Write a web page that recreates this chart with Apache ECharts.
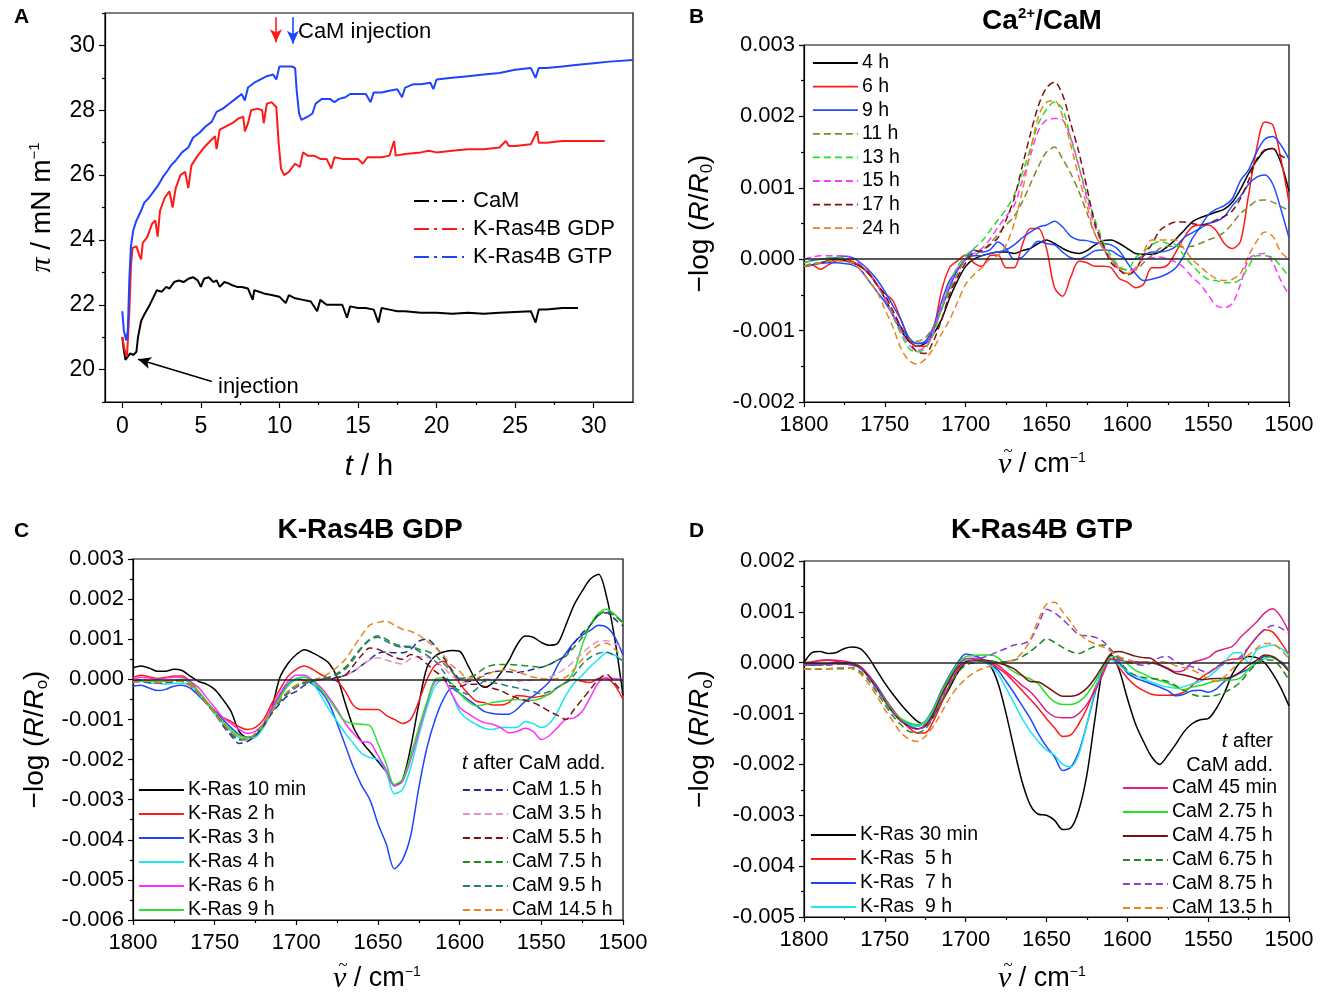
<!DOCTYPE html>
<html>
<head>
<meta charset="utf-8">
<title>CaM / K-Ras4B surface pressure and IRRA spectra</title>
<script src="https://cdn.jsdelivr.net/npm/echarts@6/dist/echarts.min.js"></script>
<style>
  html, body { margin: 0; padding: 0; background: #fff; }
  #wrap { position: relative; width: 1323px; height: 997px; }
  .panel { position: absolute; }
</style>
</head>
<body>
<div id="wrap">
  <div id="pA" class="panel" style="left:0;top:0;width:661px;height:498px"></div>
  <div id="pB" class="panel" style="left:661px;top:0;width:662px;height:498px"></div>
  <div id="pC" class="panel" style="left:0;top:498px;width:661px;height:499px"></div>
  <div id="pD" class="panel" style="left:661px;top:498px;width:662px;height:499px"></div>
</div>
<script>
const FONT = "'Liberation Sans', Arial, sans-serif";
const SERIF = "'Liberation Serif', 'DejaVu Serif', serif";

// ---------------- Panel A: surface pressure (mN/m) vs time (h) ----------------
const camTrace = [
  [0, 21.0], [0.1, 20.6], [0.2, 20.3], [0.35, 20.4], [0.5, 20.5], [0.7, 20.45], [0.9, 20.55],
  [1.0, 21.0], [1.2, 21.5], [1.4, 21.7], [1.7, 21.95], [2.0, 22.25], [2.2, 22.45], [2.5, 22.4],
  [2.8, 22.55], [3.0, 22.5], [3.3, 22.7], [3.6, 22.75], [3.9, 22.7], [4.2, 22.8], [4.5, 22.85],
  [4.8, 22.75], [5.0, 22.55], [5.2, 22.8], [5.5, 22.85], [5.8, 22.7], [6.0, 22.75], [6.2, 22.55],
  [6.5, 22.7], [6.8, 22.65], [7.0, 22.6], [7.3, 22.55], [7.6, 22.55], [8.0, 22.5], [8.3, 22.15],
  [8.4, 22.45], [8.7, 22.4], [9.0, 22.35], [9.5, 22.3], [10.0, 22.25], [10.4, 22.05], [10.6, 22.3],
  [11.0, 22.2], [11.5, 22.15], [12.0, 22.1], [12.4, 21.8], [12.6, 22.15], [13.0, 22.0], [13.5, 22.0],
  [14.0, 22.0], [14.3, 21.6], [14.5, 21.95], [15.0, 21.9], [15.5, 21.9], [16.0, 21.85], [16.3, 21.45],
  [16.5, 21.9], [17.0, 21.85], [17.5, 21.8], [18.0, 21.8], [19.0, 21.75], [20.0, 21.75], [21.0, 21.72],
  [22.0, 21.75], [23.0, 21.72], [24.0, 21.75], [25.0, 21.78], [26.0, 21.8], [26.3, 21.45], [26.5, 21.85],
  [27.0, 21.85], [28.0, 21.9], [29.0, 21.9]
];
const gdpTrace = [
  [0, 21.0], [0.15, 20.6], [0.3, 20.4], [0.45, 21.8], [0.55, 23.2], [0.65, 23.75], [0.9, 23.8],
  [1.1, 23.5], [1.2, 23.4], [1.3, 23.9], [1.6, 24.1], [1.9, 24.5], [2.1, 24.6], [2.25, 24.1],
  [2.4, 24.9], [2.7, 25.3], [3.0, 25.5], [3.2, 25.0], [3.4, 25.6], [3.7, 26.0], [4.0, 26.1],
  [4.2, 25.6], [4.4, 26.3], [4.8, 26.6], [5.2, 26.85], [5.6, 27.05], [5.9, 27.2], [6.0, 26.8],
  [6.2, 27.4], [6.6, 27.5], [7.0, 27.6], [7.4, 27.75], [7.7, 27.8], [7.8, 27.35], [8.0, 27.6],
  [8.2, 28.0], [8.6, 28.05], [8.9, 28.0], [9.0, 27.6], [9.2, 28.2], [9.5, 28.25], [9.8, 28.1],
  [9.95, 27.0], [10.1, 26.2], [10.3, 26.0], [10.6, 26.1], [11.0, 26.35], [11.3, 26.25], [11.5, 26.7],
  [11.8, 26.6], [12.2, 26.6], [12.6, 26.5], [13.0, 26.5], [13.3, 26.2], [13.5, 26.55], [14.0, 26.5],
  [14.5, 26.5], [15.0, 26.5], [15.3, 26.35], [15.6, 26.55], [16.0, 26.55], [16.5, 26.55], [17.0, 26.6],
  [17.3, 27.05], [17.4, 26.6], [18.0, 26.65], [19.0, 26.7], [19.5, 26.75], [20.0, 26.7], [21.0, 26.75],
  [22.0, 26.8], [23.0, 26.8], [24.0, 26.85], [24.4, 27.05], [24.6, 26.9], [25.0, 26.9], [26.0, 26.95],
  [26.4, 27.35], [26.5, 27.0], [27.0, 27.0], [28.0, 27.05], [29.0, 27.05], [30.0, 27.05], [30.7, 27.05]
];
const gtpTrace = [
  [0, 21.8], [0.1, 21.2], [0.25, 20.9], [0.35, 21.2], [0.45, 22.8], [0.55, 23.8], [0.7, 24.3],
  [0.9, 24.6], [1.2, 24.9], [1.4, 25.15], [1.7, 25.3], [2.0, 25.5], [2.3, 25.7], [2.6, 25.95],
  [2.9, 26.15], [3.1, 26.3], [3.4, 26.45], [3.8, 26.7], [4.2, 26.85], [4.5, 27.15], [4.9, 27.3],
  [5.3, 27.5], [5.7, 27.65], [6.0, 27.95], [6.4, 28.05], [6.8, 28.2], [7.2, 28.35], [7.6, 28.5],
  [7.8, 28.3], [8.0, 28.7], [8.4, 28.85], [8.8, 28.95], [9.2, 29.05], [9.6, 29.1], [9.8, 28.95],
  [10.0, 29.35], [10.4, 29.35], [10.8, 29.35], [11.0, 29.3], [11.1, 28.6], [11.25, 27.9], [11.4, 27.7],
  [11.8, 27.8], [12.1, 27.9], [12.3, 28.2], [12.7, 28.35], [13.2, 28.35], [13.5, 28.25], [13.8, 28.35],
  [14.2, 28.4], [14.5, 28.5], [15.0, 28.5], [15.5, 28.5], [15.8, 28.25], [16.0, 28.55], [16.5, 28.55],
  [17.0, 28.6], [17.5, 28.65], [17.8, 28.4], [18.0, 28.7], [18.5, 28.8], [19.0, 28.8], [19.6, 28.85],
  [19.8, 28.65], [20.0, 28.95], [21.0, 29.0], [22.0, 29.05], [23.0, 29.1], [24.0, 29.15], [25.0, 29.25],
  [26.0, 29.3], [26.3, 29.0], [26.5, 29.3], [27.0, 29.3], [28.0, 29.35], [29.0, 29.4], [30.0, 29.45],
  [31.0, 29.5], [32.5, 29.55]
];
const timeTicks = [0, 5, 10, 15, 20, 25, 30];
const timeMinorTicks = [2.5, 7.5, 12.5, 17.5, 22.5, 27.5];
const piTicks = [20, 22, 24, 26, 28, 30];
const piMinorTicks = [19, 21, 23, 25, 27, 29, 31];
// injection arrows: [t, pi] start -> end
const injArrowRed = [[9.78, 30.87], [9.78, 30.1]];
const injArrowBlue = [[10.86, 30.87], [10.86, 30.05]];
const injArrowCam = [[5.7, 19.63], [1.0, 20.32]];

// ---------------- wavenumber grid (cm-1) for panels B-D ----------------
const wn = [
  1800, 1795, 1790, 1785, 1780, 1775, 1770, 1765, 1760, 1755,
  1750, 1745, 1740, 1735, 1730, 1725, 1720, 1715, 1710, 1705,
  1700, 1695, 1690, 1685, 1680, 1675, 1670, 1665, 1660, 1655,
  1650, 1645, 1640, 1635, 1630, 1625, 1620, 1615, 1610, 1605,
  1600, 1595, 1590, 1585, 1580, 1575, 1570, 1565, 1560, 1555,
  1550, 1545, 1540, 1535, 1530, 1525, 1520, 1515, 1510, 1505,
  1500
];

// ---------------- Panel B: Ca2+/CaM (values in units of 1e-3) ----------------
const b4h = [
  -0.1, -0.08, -0.05, -0.03, 0, -0.02, -0.05, -0.1, -0.2, -0.35,
  -0.55, -0.78, -1.0, -1.15, -1.22, -1.18, -1.05, -0.85, -0.55, -0.3,
  -0.1, 0, 0.05, 0.08, 0.1, 0.1, 0.08, 0.12, 0.15, 0.22,
  0.27, 0.22, 0.15, 0.1, 0.08, 0.12, 0.2, 0.26, 0.27, 0.22,
  0.15, 0.08, 0.07, 0.07, 0.1, 0.18, 0.28, 0.4, 0.52, 0.58,
  0.62, 0.66, 0.7, 0.8, 0.98, 1.2, 1.38, 1.52, 1.55, 1.35,
  0.95
];
const b6h = [
  -0.1, -0.08, -0.14, -0.08, -0.02, 0, -0.03, -0.1, -0.18, -0.35,
  -0.48, -0.58, -0.85, -1.12, -1.22, -1.22, -1.0, -0.45, -0.12, -0.02,
  0.06, -0.05, -0.1, 0.05, 0.06, -0.12, -0.12, 0.2, 0.43, 0.43,
  0.15, -0.4, -0.52, -0.25, -0.03, -0.05, -0.1, -0.1, -0.12, -0.27,
  -0.32, -0.4, -0.35, -0.12, -0.12, -0.08, 0.1, 0.3, 0.45, 0.48,
  0.48, 0.4, 0.22, 0.15, 0.25, 0.9, 1.55, 1.92, 1.88, 1.4,
  0.8
];
const b9h = [
  -0.05, -0.02, 0, 0.01, 0.02, 0.04, 0.02, -0.05, -0.15, -0.28,
  -0.45, -0.65, -0.85, -1.1, -1.18, -1.15, -0.95, -0.6, -0.3, -0.15,
  0, 0.05, 0.05, 0.08, 0.1, 0.13, 0.2, 0.3, 0.38, 0.45,
  0.48, 0.53, 0.45, 0.32, 0.27, 0.26, 0.23, 0.22, 0.2, 0.12,
  -0.05, -0.2, -0.3, -0.28, -0.25, -0.2, -0.12, 0.05, 0.28, 0.45,
  0.62, 0.7, 0.75, 0.85, 1.1, 1.25, 1.5, 1.68, 1.72, 1.6,
  1.4
];
const b9hRepeat = [
  -0.1, -0.08, -0.06, -0.05, -0.05, -0.06, -0.08, -0.15, -0.3, -0.45,
  -0.6, -0.78, -0.95, -1.12, -1.18, -1.17, -1.0, -0.7, -0.4, -0.15,
  0, 0.13, 0.1, 0.13, 0.24, 0.15, 0, 0.03, 0.15, 0.25,
  0.22, 0.2, 0.1, 0.02, 0, 0.05, 0.12, 0.13, 0.12, 0.05,
  0, 0, 0.05, 0.1, 0.1, 0.12, 0.18, 0.3, 0.37, 0.43,
  0.5, 0.53, 0.6, 0.75, 0.88, 1.05, 1.15, 1.18, 1.05, 0.7,
  0.3
];
const b11h = [
  -0.1, -0.06, -0.05, -0.02, 0, -0.02, -0.05, -0.1, -0.2, -0.35,
  -0.55, -0.78, -1.0, -1.12, -1.15, -1.1, -0.95, -0.7, -0.45, -0.2,
  0, 0.05, 0.12, 0.22, 0.35, 0.48, 0.6, 0.8, 1.05, 1.3,
  1.5, 1.57, 1.4, 1.2, 0.95, 0.65, 0.35, 0.15, 0, -0.12,
  -0.15, -0.15, -0.05, 0.05, 0.15, 0.18, 0.18, 0.17, 0.18, 0.22,
  0.27, 0.31, 0.38, 0.5, 0.64, 0.73, 0.82, 0.83, 0.8, 0.74,
  0.68
];
const b13h = [
  -0.05, -0.02, 0, 0.02, 0.03, 0.02, 0, -0.08, -0.2, -0.35,
  -0.55, -0.8, -1.05, -1.25, -1.3, -1.25, -1.05, -0.7, -0.35, -0.1,
  0.05, 0.15, 0.25, 0.4, 0.55, 0.7, 0.9, 1.2, 1.55, 1.9,
  2.1, 2.2, 2.1, 1.7, 1.3, 0.9, 0.55, 0.25, 0.05, -0.1,
  -0.15, 0.02, 0.1, 0.2, 0.25, 0.22, 0.2, 0.05, -0.08, -0.2,
  -0.28, -0.3, -0.33, -0.33, -0.28, -0.1, 0.05, 0.05, 0.02, -0.1,
  -0.25
];
const b15h = [
  0, 0.03, 0.05, 0.05, 0.05, 0.05, 0, -0.08, -0.2, -0.35,
  -0.55, -0.78, -1.0, -1.2, -1.28, -1.22, -1.0, -0.65, -0.35, -0.12,
  0, 0.08, 0.15, 0.28, 0.45, 0.6, 0.75, 1.1, 1.45, 1.8,
  1.95, 1.97, 1.95, 1.7, 1.3, 0.85, 0.45, 0.2, 0, -0.15,
  -0.2, -0.12, 0, 0.02, 0.03, 0, -0.04, -0.12, -0.25, -0.35,
  -0.5, -0.65, -0.68, -0.62, -0.35, 0, 0.07, 0.08, -0.05, -0.3,
  -0.5
];
const b17h = [
  -0.1, -0.08, -0.05, -0.02, 0, -0.02, -0.05, -0.1, -0.2, -0.35,
  -0.5, -0.72, -0.95, -1.15, -1.3, -1.32, -1.15, -0.85, -0.5, -0.25,
  -0.05, 0.1, 0.12, 0.2, 0.3, 0.55, 0.85, 1.3, 1.75, 2.15,
  2.4, 2.48, 2.3, 1.9, 1.5, 1.0, 0.5, 0.2, -0.05, -0.15,
  -0.22, -0.15, 0.05, 0.2, 0.4, 0.48, 0.52, 0.52, 0.5, 0.48,
  0.5, 0.55, 0.6, 0.68, 0.85, 1.1, 1.4, 1.53, 1.55, 1.45,
  1.4
];
const b24h = [
  -0.1, -0.08, -0.05, -0.03, -0.02, -0.03, -0.05, -0.15, -0.3, -0.45,
  -0.7, -0.95, -1.25, -1.42, -1.47, -1.4, -1.25, -1.05, -0.85, -0.6,
  -0.35, -0.22, -0.12, 0, 0.05, 0.2, 0.5, 0.95, 1.5, 2.0,
  2.2, 2.22, 2.0, 1.6, 1.15, 0.75, 0.35, 0.15, 0, -0.12,
  -0.2, -0.15, 0.1, 0.27, 0.27, 0.27, 0.27, 0.15, 0, -0.1,
  -0.2, -0.27, -0.3, -0.28, -0.2, 0.05, 0.25, 0.38, 0.32, 0.1,
  0
];

// ---------------- Panel C: K-Ras4B GDP (1e-3) ----------------
const cRas10min = [
  0.29, 0.33, 0.28, 0.2, 0.2, 0.25, 0.22, 0.08, -0.05, -0.12,
  -0.25, -0.5, -0.8, -1.3, -1.45, -1.4, -1.15, -0.7, 0.05, 0.4,
  0.62, 0.74, 0.66, 0.55, 0.4, 0.05, -0.6, -1.2, -1.55, -1.8,
  -2.05, -2.3, -2.65, -2.5, -1.7, -0.62, 0.3, 0.58, 0.68, 0.72,
  0.7, 0.35, -0.02, -0.2, -0.1, 0.15, 0.46, 0.85, 1.08, 1.05,
  0.92, 0.85, 0.9, 1.35, 1.85, 2.2, 2.5, 2.62, 2.05, 1.0,
  -0.4
];
const cRas2h = [
  0.04, 0.1, 0.06, 0.02, 0.05, 0.08, 0.08, -0.05, -0.3, -0.55,
  -0.78, -0.95, -1.05, -1.18, -1.25, -1.2, -1.0, -0.6, -0.25, 0.08,
  0.25, 0.33, 0.25, 0.12, 0.02, -0.05, -0.3, -0.65, -0.75, -0.75,
  -0.75, -0.9, -1.0, -1.1, -1.0, -0.55, 0, 0.35, 0.45, 0.22,
  -0.1, -0.35, -0.54, -0.58, -0.64, -0.64, -0.58, -0.4, -0.42, -0.45,
  -0.42, -0.37, -0.2, -0.08, 0, -0.05, -0.08, 0.02, 0.02, -0.15,
  -0.5
];
const cRas3h = [
  -0.17, -0.15, -0.22, -0.28, -0.25, -0.17, -0.15, -0.22, -0.4, -0.6,
  -0.8, -1.0, -1.2, -1.38, -1.45, -1.4, -1.15, -0.75, -0.4, -0.12,
  0, -0.02, -0.12, -0.3, -0.6, -1.1, -1.65, -2.2, -2.65, -3.0,
  -3.6, -4.1, -4.72, -4.5, -3.9, -2.7, -1.7, -1.0, -0.5, -0.22,
  -0.35, -0.5, -0.65, -0.8, -0.85, -0.87, -0.87, -0.75, -0.55, -0.42,
  -0.25, -0.05, 0.35, 0.65, 0.92, 1.1, 1.22, 1.35, 1.3, 1.05,
  0.6
];
const cRas4h = [
  -0.08, -0.05, -0.1, -0.1, -0.12, -0.1, -0.1, -0.15, -0.35, -0.6,
  -0.85, -1.1, -1.3, -1.45, -1.5, -1.45, -1.2, -0.8, -0.45, -0.15,
  0, 0.05, -0.1, -0.4, -0.75, -1.05, -1.35, -1.6, -1.85, -1.95,
  -2.0, -2.3, -2.85, -2.75, -2.2, -1.4, -0.7, -0.15, 0, -0.35,
  -0.8, -1.0, -1.12, -1.22, -1.25, -1.2, -1.2, -1.2, -1.05, -1.1,
  -1.2, -1.1, -0.8, -0.4, -0.1, 0.1, 0.32, 0.5, 0.66, 0.6,
  0.46
];
const cRas6h = [
  0, 0.05, 0.03, 0, 0.03, 0.05, 0.05, -0.05, -0.2, -0.45,
  -0.7, -0.95, -1.1, -1.25, -1.35, -1.3, -1.1, -0.7, -0.35, -0.05,
  0.1, 0.1, -0.02, -0.2, -0.45, -0.75, -1.1, -1.35, -1.55, -1.58,
  -1.9, -2.25, -2.66, -2.55, -2.0, -1.3, -0.6, -0.05, -0.02, -0.35,
  -0.7, -0.85, -0.98, -1.08, -1.12, -1.2, -1.33, -1.3, -1.22, -1.3,
  -1.5, -1.4, -1.2, -1.0, -0.96, -0.8, -0.45, -0.08, 0.04, 0.02,
  0
];
const cRas9h = [
  -0.05, -0.02, -0.05, -0.05, -0.05, -0.02, 0, -0.1, -0.3, -0.55,
  -0.8, -1.05, -1.25, -1.4, -1.45, -1.38, -1.15, -0.8, -0.45, -0.15,
  0.02, 0.05, -0.05, -0.25, -0.5, -0.8, -1.05, -1.1, -1.12, -1.15,
  -1.6, -2.1, -2.62, -2.5, -1.9, -1.2, -0.55, 0, 0.04, -0.1,
  -0.35, -0.55, -0.66, -0.63, -0.58, -0.55, -0.52, -0.5, -0.52, -0.52,
  -0.47, -0.35, -0.2, -0.08, 0.2, 0.85, 1.35, 1.65, 1.75, 1.62,
  1.4
];
const cCam15h = [
  -0.05, 0, -0.05, -0.08, -0.05, -0.02, -0.05, -0.15, -0.35, -0.6,
  -0.85, -1.15, -1.4, -1.6, -1.55, -1.4, -1.15, -0.85, -0.6, -0.4,
  -0.3, -0.15, -0.05, 0, 0, 0.05, 0.1, 0.2, 0.35, 0.5,
  0.65, 0.68, 0.66, 0.66, 0.75, 0.95, 1.0, 0.83, 0.55, 0.25,
  0, -0.05, -0.02, 0.12, 0.18, 0.21, 0.19, 0.17, 0.2, 0.25,
  0.3, 0.37, 0.48, 0.6, 0.9, 1.15, 1.35, 1.6, 1.66, 1.5,
  1.33
];
const cCam35h = [
  -0.05, -0.02, -0.05, -0.08, -0.05, -0.03, -0.05, -0.15, -0.35, -0.6,
  -0.85, -1.1, -1.35, -1.5, -1.5, -1.35, -1.1, -0.8, -0.55, -0.35,
  -0.2, -0.1, -0.05, 0, 0.02, 0.05, 0.1, 0.2, 0.35, 0.48,
  0.54, 0.48, 0.42, 0.38, 0.52, 0.56, 0.55, 0.45, 0.3, 0.1,
  -0.05, -0.08, -0.02, 0, 0, 0, -0.02, -0.04, -0.03, -0.02,
  0, 0.05, 0.15, 0.28, 0.45, 0.65, 0.82, 0.95, 0.96, 0.88,
  0.79
];
const cCam55h = [
  -0.05, -0.05, -0.08, -0.1, -0.08, -0.05, -0.05, -0.15, -0.35, -0.6,
  -0.85, -1.1, -1.35, -1.5, -1.5, -1.35, -1.1, -0.8, -0.55, -0.3,
  -0.15, -0.08, -0.02, 0.02, 0.03, 0.05, 0.1, 0.35, 0.6, 0.78,
  0.75, 0.65, 0.55, 0.5, 0.62, 0.55, 0.38, 0.2, 0.05, -0.18,
  -0.18, -0.12, -0.12, -0.18, -0.22, -0.28, -0.38, -0.46, -0.52, -0.58,
  -0.68, -0.8, -0.9, -1.0, -0.75, -0.5, -0.25, 0, 0.12, -0.1,
  -0.35
];
const cCam75h = [
  -0.05, -0.05, -0.08, -0.1, -0.08, -0.05, -0.05, -0.15, -0.35, -0.6,
  -0.85, -1.1, -1.35, -1.5, -1.5, -1.35, -1.1, -0.8, -0.55, -0.3,
  -0.15, -0.1, -0.05, 0, 0.05, 0.15, 0.3, 0.55, 0.8, 1.0,
  1.08, 1.0, 0.88, 0.83, 0.82, 0.75, 0.7, 0.6, 0.4, 0.2,
  0.02, 0.05, 0.12, 0.28, 0.35, 0.37, 0.37, 0.36, 0.34, 0.32,
  0.3, 0.38, 0.48, 0.58, 0.8, 1.04, 1.35, 1.6, 1.7, 1.58,
  1.42
];
const cCam95h = [
  -0.08, -0.05, -0.08, -0.1, -0.08, -0.05, -0.05, -0.15, -0.35, -0.6,
  -0.85, -1.1, -1.35, -1.5, -1.5, -1.35, -1.1, -0.8, -0.55, -0.35,
  -0.2, -0.1, -0.05, 0, 0.05, 0.12, 0.25, 0.5, 0.78, 0.98,
  1.05, 0.95, 0.85, 0.8, 0.8, 0.7, 0.6, 0.45, 0.2, -0.15,
  -0.28, -0.37, -0.25, -0.05, -0.08, -0.12, -0.17, -0.21, -0.26, -0.3,
  -0.36, -0.3, -0.2, -0.08, 0.1, 0.37, 0.55, 0.65, 0.68, 0.58,
  0.46
];
const cCam145h = [
  -0.08, -0.05, -0.05, -0.08, -0.05, -0.05, -0.05, -0.15, -0.35, -0.6,
  -0.85, -1.1, -1.3, -1.45, -1.5, -1.35, -1.1, -0.8, -0.5, -0.3,
  -0.15, -0.05, -0.02, 0.05, 0.15, 0.3, 0.5, 0.8, 1.1, 1.35,
  1.42, 1.45, 1.35, 1.25, 1.2, 1.1, 0.95, 0.8, 0.6, 0.35,
  0.2, 0.02, 0.05, 0.08, 0.18, 0.22, 0.25, 0.2, 0.12, 0.06,
  0.02, 0, 0.02, 0.05, 0.25, 0.5, 0.7, 0.85, 0.9, 0.75,
  0.55
];

// ---------------- Panel D: K-Ras4B GTP (1e-3) ----------------
const dRas30min = [
  0, 0.2, 0.22, 0.18, 0.2, 0.28, 0.31, 0.27, 0.1, -0.15,
  -0.4, -0.62, -0.82, -1.0, -1.15, -1.22, -1.05, -0.78, -0.5, -0.2,
  0, 0.05, 0.03, -0.05, -0.4, -1.0, -1.7, -2.35, -2.8, -2.98,
  -3.0, -3.1, -3.28, -3.25, -2.9, -2.2, -1.1, -0.1, 0.15, -0.15,
  -0.7, -1.2, -1.55, -1.85, -2.0, -1.82, -1.6, -1.36, -1.2, -1.12,
  -1.1, -0.9, -0.6, -0.22, 0.02, 0.12, 0.1, 0, -0.22, -0.5,
  -0.85
];
const dRas5h = [
  0, 0.02, 0.04, 0.05, 0.03, 0, -0.02, -0.08, -0.25, -0.48,
  -0.7, -0.92, -1.12, -1.28, -1.38, -1.38, -1.15, -0.8, -0.45, -0.15,
  0, 0.05, 0.04, 0, -0.1, -0.22, -0.38, -0.55, -0.72, -0.9,
  -1.1, -1.28, -1.45, -1.42, -1.2, -0.9, -0.5, -0.15, 0.08, -0.1,
  -0.3, -0.45, -0.55, -0.62, -0.64, -0.64, -0.63, -0.58, -0.45, -0.31,
  -0.2, -0.1, 0.03, 0.07, 0.08, 0.3, 0.5, 0.65, 0.6, 0.4,
  0.15
];
const dRas7h = [
  -0.05, -0.05, -0.05, -0.02, 0, -0.02, -0.05, -0.1, -0.25, -0.45,
  -0.7, -0.95, -1.12, -1.2, -1.25, -1.15, -0.9, -0.55, -0.25, 0,
  0.17, 0.14, 0.08, -0.02, -0.15, -0.37, -0.6, -0.85, -1.1, -1.4,
  -1.65, -1.85, -2.12, -2.05, -1.75, -1.2, -0.6, -0.1, 0.08, 0,
  -0.2, -0.3, -0.36, -0.42, -0.48, -0.55, -0.65, -0.62, -0.55, -0.54,
  -0.58, -0.52, -0.37, -0.28, -0.2, -0.12, 0, 0.12, 0.1, 0.02,
  -0.14
];
const dRas9h = [
  -0.02, -0.02, -0.03, -0.02, 0, -0.02, -0.03, -0.1, -0.28, -0.5,
  -0.75, -0.98, -1.12, -1.22, -1.25, -1.18, -0.95, -0.6, -0.3, -0.05,
  0.05, 0.06, 0.04, -0.05, -0.22, -0.5, -0.8, -1.1, -1.35, -1.55,
  -1.72, -1.82, -2.0, -2.05, -1.8, -1.2, -0.55, -0.1, 0.06, -0.05,
  -0.17, -0.25, -0.32, -0.38, -0.44, -0.48, -0.5, -0.47, -0.42, -0.37,
  -0.28, -0.15, 0, 0.18, 0.2, 0, 0.25, 0.32, 0.35, 0.28,
  0.15
];
const dCam45min = [
  -0.02, 0, 0.05, 0.06, 0.05, 0.03, 0, -0.08, -0.25, -0.48,
  -0.72, -0.95, -1.12, -1.25, -1.3, -1.22, -1.0, -0.65, -0.32, -0.05,
  0.08, 0.09, 0.06, 0.02, -0.05, -0.18, -0.31, -0.45, -0.57, -0.75,
  -0.95, -1.06, -1.08, -1.08, -1.0, -0.82, -0.55, -0.22, 0.08, 0.05,
  0.02, 0.02, 0.02, 0, -0.05, -0.11, -0.18, -0.15, 0, 0.05,
  0.1, 0.22, 0.27, 0.32, 0.5, 0.65, 0.8, 0.98, 1.06, 0.9,
  0.6
];
const dCam275h = [
  -0.05, -0.03, -0.03, -0.02, 0, -0.02, -0.04, -0.1, -0.28, -0.5,
  -0.72, -0.95, -1.1, -1.18, -1.22, -1.15, -0.92, -0.58, -0.28, -0.02,
  0.12, 0.14, 0.15, 0.15, 0.1, -0.06, -0.18, -0.26, -0.32, -0.42,
  -0.62, -0.77, -0.82, -0.82, -0.77, -0.62, -0.38, -0.1, 0.12, 0.1,
  -0.02, -0.15, -0.22, -0.3, -0.35, -0.4, -0.48, -0.53, -0.48, -0.45,
  -0.4, -0.36, -0.34, -0.34, -0.3, -0.13, 0, 0.08, 0.12, 0,
  -0.14
];
const dCam475h = [
  -0.02, -0.02, -0.02, -0.02, -0.02, -0.02, -0.03, -0.1, -0.28, -0.5,
  -0.75, -0.98, -1.15, -1.25, -1.3, -1.25, -1.0, -0.65, -0.35, -0.1,
  0.02, 0.04, 0.05, 0.04, 0, -0.05, -0.12, -0.25, -0.37, -0.38,
  -0.47, -0.58, -0.66, -0.66, -0.62, -0.5, -0.3, -0.05, 0.18, 0.22,
  0.18, 0.13, 0.1, 0.08, -0.04, -0.12, -0.21, -0.24, -0.28, -0.33,
  -0.32, -0.31, -0.31, -0.27, -0.18, -0.05, 0.05, 0.15, 0.12, 0,
  -0.17
];
const dCam675h = [
  -0.12, -0.13, -0.13, -0.12, -0.12, -0.12, -0.1, -0.18, -0.35, -0.58,
  -0.82, -1.05, -1.22, -1.35, -1.38, -1.3, -1.08, -0.75, -0.45, -0.2,
  -0.05, 0, 0.03, 0.03, 0.02, 0.02, 0.05, 0.12, 0.22, 0.35,
  0.47, 0.4, 0.3, 0.22, 0.18, 0.25, 0.32, 0.35, 0.25, 0.05,
  -0.15, -0.25, -0.29, -0.31, -0.33, -0.37, -0.45, -0.55, -0.62, -0.66,
  -0.66, -0.64, -0.58, -0.5, -0.38, -0.18, -0.03, 0.06, 0.05, -0.1,
  -0.34
];
const dCam875h = [
  -0.05, -0.05, -0.05, -0.05, -0.03, -0.03, -0.05, -0.12, -0.3, -0.52,
  -0.75, -0.98, -1.15, -1.25, -1.3, -1.25, -1.05, -0.7, -0.4, -0.12,
  0.02, 0.06, 0.1, 0.15, 0.22, 0.28, 0.35, 0.37, 0.45, 0.75,
  1.05, 0.98, 0.85, 0.7, 0.55, 0.53, 0.5, 0.42, 0.25, 0.1,
  0.02, -0.03, -0.05, 0, 0.1, 0.12, 0.02, -0.04, -0.08, -0.14,
  -0.2, -0.08, -0.03, 0, 0.12, 0.3, 0.5, 0.65, 0.73, 0.68,
  0.58
];
const dCam135h = [
  -0.12, -0.12, -0.12, -0.12, -0.1, -0.1, -0.12, -0.22, -0.42, -0.65,
  -0.92, -1.15, -1.38, -1.5, -1.55, -1.45, -1.25, -0.98, -0.7, -0.48,
  -0.32, -0.2, -0.12, -0.07, -0.03, 0.02, 0.06, 0.2, 0.45, 0.85,
  1.15, 1.19, 1.0, 0.8, 0.58, 0.45, 0.37, 0.31, 0.22, 0.12,
  0.06, 0.02, 0.01, 0, 0.02, 0, -0.06, -0.1, -0.14, -0.22,
  -0.31, -0.37, -0.28, -0.12, 0.02, 0.15, 0.28, 0.38, 0.37, 0.25,
  0.08
];

// ---------------- helpers ----------------
const fmt3 = v => (Math.round(v * 1e4) / 1e4).toFixed(3);
const blackLine = { color: '#000', width: 1.2 };

function toPoints(vals) {
  return wn.map((w, i) => [w, vals[i] / 1000]);
}

function specSeries(name, vals, color, dashed) {
  return {
    name: name,
    type: 'line',
    data: toPoints(vals),
    symbol: 'none',
    smooth: 0.3,
    lineStyle: { color: color, width: 1.5, type: dashed ? [7, 4] : 'solid' },
    itemStyle: { color: color },
    emphasis: { disabled: true }
  };
}

function zeroLine() {
  return {
    type: 'line', data: [], symbol: 'none', silent: true,
    markLine: {
      silent: true, symbol: 'none', label: { show: false },
      lineStyle: { color: '#222', width: 1.5, type: 'solid' },
      emphasis: { disabled: true },
      data: [{ yAxis: 0 }]
    }
  };
}

function wnAxis() {
  return {
    type: 'value', min: 1500, max: 1800, interval: 50, inverse: true,
    axisLine: { onZero: false, lineStyle: blackLine },
    axisTick: { length: 5, lineStyle: blackLine },
    minorTick: { show: true, splitNumber: 2, length: 3, lineStyle: blackLine },
    axisLabel: { color: '#000', fontSize: 22, fontFamily: FONT, margin: 12, formatter: v => String(v) },
    splitLine: { show: false }
  };
}

// x-axis title drawn as text so the tilde can sit over the nu
function wnTitle(x, y) {
  return [
    {
      type: 'text', x: x, y: y,
      style: {
        text: '{i|\u03bd} / cm{sup|\u22121}', fill: '#000', textVerticalAlign: 'middle',
        font: '27px ' + FONT,
        rich: {
          i: { fontSize: 30, fontFamily: SERIF, fontStyle: 'italic', fill: '#000' },
          sup: { fontSize: 14, fontFamily: FONT, fill: '#000', padding: [0, 0, 14, 0] }
        }
      }
    },
    {
      type: 'text', x: x + 10, y: y - 13,
      style: { text: '~', fill: '#000', textAlign: 'center', textVerticalAlign: 'middle', font: '17px ' + SERIF }
    }
  ];
}

function absAxis(min, max, gap, subChar) {
  return {
    type: 'value', min: min, max: max, interval: 0.001,
    name: '\u2212log ({i|R}/{i|R}{sub|' + subChar + '})',
    nameLocation: 'middle', nameGap: gap,
    nameTextStyle: {
      color: '#000', fontSize: 28, fontFamily: FONT,
      rich: {
        i: { fontSize: 28, fontFamily: FONT, fontStyle: 'italic', color: '#000' },
        sub: { fontSize: 17, fontFamily: FONT, color: '#000', padding: [14, 0, 0, 0] }
      }
    },
    axisLine: { onZero: false, lineStyle: blackLine },
    axisTick: { length: 5, lineStyle: blackLine },
    minorTick: { show: true, splitNumber: 2, length: 3, lineStyle: blackLine },
    axisLabel: { color: '#000', fontSize: 22, fontFamily: FONT, margin: 9, formatter: fmt3 },
    splitLine: { show: false }
  };
}

function specLegend(names, left, top, gap) {
  return {
    data: names, orient: 'vertical', left: left, top: top, padding: 0,
    itemWidth: 45, itemHeight: 14, itemGap: gap, selectedMode: false,
    itemStyle: { opacity: 0 },
    lineStyle: { width: 1.8 },
    textStyle: { color: '#000', fontSize: 19.5, fontFamily: FONT, padding: [0, 0, 0, -1] }
  };
}

function letter(ch, x, y) {
  return {
    type: 'text', x: x, y: y,
    style: { text: ch, font: 'bold 21px ' + FONT, fill: '#000', textVerticalAlign: 'middle' }
  };
}

function titleText(text, x, y) {
  return {
    type: 'text', x: x, y: y,
    style: {
      text: text, fill: '#000', textAlign: 'center', textVerticalAlign: 'middle',
      font: 'bold 28px ' + FONT,
      rich: {
        b: { fontSize: 28, fontWeight: 'bold', fontFamily: FONT, fill: '#000' },
        s: { fontSize: 15, fontWeight: 'bold', fontFamily: FONT, fill: '#000', padding: [0, 0, 14, 0] }
      }
    }
  };
}

// ---------------- Panel A ----------------
function arrowLine(pts, color) {
  return {
    silent: true, symbol: ['none', 'arrow'], symbolSize: [9, 13],
    label: { show: false }, emphasis: { disabled: true },
    lineStyle: { color: color, width: 1.6, type: 'solid' },
    data: [[{ coord: pts[0] }, { coord: pts[1] }]]
  };
}

function traceSeries(name, data, color, arrow) {
  return {
    name: name, type: 'line', data: data, symbol: 'none',
    lineStyle: { color: color, width: 2 }, itemStyle: { color: color },
    emphasis: { disabled: true },
    markLine: arrow ? arrowLine(arrow, color) : undefined
  };
}

const axisTextA = { color: '#000', fontSize: 23, fontFamily: FONT };

const chartA = echarts.init(document.getElementById('pA'));
chartA.setOption({
  animation: false,
  grid: { left: 105, top: 13, width: 528, height: 389, show: true, borderColor: '#000', borderWidth: 1.2 },
  xAxis: [
    {
      type: 'value', min: -1.1, max: 32.5,
      name: '{i|t} / h', nameLocation: 'middle', nameGap: 50,
      nameTextStyle: {
        color: '#000', fontSize: 29, fontFamily: FONT,
        rich: { i: { fontSize: 29, fontFamily: FONT, fontStyle: 'italic', color: '#000' } }
      },
      axisLine: { onZero: false, lineStyle: blackLine },
      axisTick: { customValues: timeTicks, length: 6, lineStyle: blackLine },
      axisLabel: Object.assign({ customValues: timeTicks, margin: 13 }, axisTextA),
      splitLine: { show: false }
    },
    {
      type: 'value', min: -1.1, max: 32.5, position: 'bottom',
      axisLine: { show: false, onZero: false }, axisLabel: { show: false }, splitLine: { show: false },
      axisTick: { customValues: timeMinorTicks, length: 3, lineStyle: blackLine }
    }
  ],
  yAxis: [
    {
      type: 'value', min: 19, max: 31,
      name: '{i|\u03c0} / mN m{sup|\u22121}', nameLocation: 'middle', nameGap: 48,
      nameTextStyle: {
        color: '#000', fontSize: 28, fontFamily: FONT,
        rich: {
          i: { fontSize: 30, fontFamily: SERIF, fontStyle: 'italic', color: '#000' },
          sup: { fontSize: 15, fontFamily: FONT, color: '#000', padding: [0, 0, 14, 0] }
        }
      },
      axisLine: { onZero: false, lineStyle: blackLine },
      axisTick: { customValues: piTicks, length: 6, lineStyle: blackLine },
      axisLabel: Object.assign({ customValues: piTicks, margin: 10 }, axisTextA),
      splitLine: { show: false }
    },
    {
      type: 'value', min: 19, max: 31, position: 'left',
      axisLine: { show: false, onZero: false }, axisLabel: { show: false }, splitLine: { show: false },
      axisTick: { customValues: piMinorTicks, length: 3, lineStyle: blackLine }
    }
  ],
  legend: {
    data: ['CaM', 'K-Ras4B GDP', 'K-Ras4B GTP'], orient: 'vertical',
    left: 413, top: 190, padding: 0, itemWidth: 50, itemHeight: 14, itemGap: 6,
    selectedMode: false, itemStyle: { opacity: 0 },
    lineStyle: { width: 2, type: [15, 5, 3, 5] },
    textStyle: { color: '#000', fontSize: 22, fontFamily: FONT, padding: [0, 0, 0, 4] }
  },
  graphic: [
    letter('A', 14, 17),
    { type: 'text', x: 298, y: 32, style: { text: 'CaM injection', font: '22px ' + FONT, fill: '#000', textVerticalAlign: 'middle' } },
    { type: 'text', x: 218, y: 387, style: { text: 'injection', font: '22px ' + FONT, fill: '#000', textVerticalAlign: 'middle' } }
  ],
  series: [
    traceSeries('CaM', camTrace, '#000000', injArrowCam),
    traceSeries('K-Ras4B GDP', gdpTrace, '#ff1a1a', injArrowRed),
    traceSeries('K-Ras4B GTP', gtpTrace, '#1f44ff', injArrowBlue)
  ]
});

// ---------------- Panel B ----------------
const chartB = echarts.init(document.getElementById('pB'));
chartB.setOption({
  animation: false,
  grid: { left: 143, top: 45, width: 485, height: 357, show: true, borderColor: '#000', borderWidth: 1.2 },
  xAxis: wnAxis(),
  yAxis: absAxis(-0.002, 0.003, 88, '0'),
  legend: specLegend(['4 h', '6 h', '9 h', '11 h', '13 h', '15 h', '17 h', '24 h'], 151, 53, 3.6),
  graphic: [
    letter('B', 28, 17),
    titleText('{b|Ca}{s|2+}{b|/CaM}', 381, 21)
  ].concat(wnTitle(337, 465)),
  series: [
    zeroLine(),
    specSeries('4 h', b4h, '#000000', false),
    specSeries('6 h', b6h, '#ff1a1a', false),
    specSeries('9 h', b9h, '#1f4cff', false),
    specSeries('9 h', b9hRepeat, '#1f4cff', false),
    specSeries('11 h', b11h, '#85852a', true),
    specSeries('13 h', b13h, '#22e022', true),
    specSeries('15 h', b15h, '#ff38ff', true),
    specSeries('17 h', b17h, '#801010', true),
    specSeries('24 h', b24h, '#e8851e', true)
  ]
});

// ---------------- Panel C ----------------
const chartC = echarts.init(document.getElementById('pC'));
chartC.setOption({
  animation: false,
  grid: { left: 133, top: 61, width: 490, height: 361, show: true, borderColor: '#000', borderWidth: 1.2 },
  xAxis: wnAxis(),
  yAxis: absAxis(-0.006, 0.003, 78, 'o'),
  legend: [
    specLegend(['K-Ras 10 min', 'K-Ras 2 h', 'K-Ras 3 h', 'K-Ras 4 h', 'K-Ras 6 h', 'K-Ras 9 h'], 138, 282, 4),
    specLegend(['CaM 1.5 h', 'CaM 3.5 h', 'CaM 5.5 h', 'CaM 7.5 h', 'CaM 9.5 h', 'CaM 14.5 h'], 462, 282, 4)
  ],
  graphic: [
    letter('C', 14, 33),
    titleText('{b|K-Ras4B GDP}', 370, 32),
    {
      type: 'text', x: 462, y: 265,
      style: {
        text: '{i|t} after CaM add.', font: '20px ' + FONT, fill: '#000', textVerticalAlign: 'middle',
        rich: { i: { fontStyle: 'italic', fontSize: 20, fontFamily: FONT, fill: '#000' } }
      }
    }
  ].concat(wnTitle(333, 481)),
  series: [
    zeroLine(),
    specSeries('K-Ras 10 min', cRas10min, '#000000', false),
    specSeries('K-Ras 2 h', cRas2h, '#ff1a1a', false),
    specSeries('K-Ras 3 h', cRas3h, '#1f44ff', false),
    specSeries('K-Ras 4 h', cRas4h, '#18e6f2', false),
    specSeries('K-Ras 6 h', cRas6h, '#ff30ff', false),
    specSeries('K-Ras 9 h', cRas9h, '#2ee02e', false),
    specSeries('CaM 1.5 h', cCam15h, '#1f2f8f', true),
    specSeries('CaM 3.5 h', cCam35h, '#e690d0', true),
    specSeries('CaM 5.5 h', cCam55h, '#7a1010', true),
    specSeries('CaM 7.5 h', cCam75h, '#228b22', true),
    specSeries('CaM 9.5 h', cCam95h, '#1d8080', true),
    specSeries('CaM 14.5 h', cCam145h, '#e8851e', true)
  ]
});

// ---------------- Panel D ----------------
const chartD = echarts.init(document.getElementById('pD'));
chartD.setOption({
  animation: false,
  grid: { left: 143, top: 63, width: 485, height: 356, show: true, borderColor: '#000', borderWidth: 1.2 },
  xAxis: wnAxis(),
  yAxis: absAxis(-0.005, 0.002, 88, 'o'),
  legend: [
    specLegend(['K-Ras 30 min', 'K-Ras  5 h', 'K-Ras  7 h', 'K-Ras  9 h'], 149, 327, 4),
    specLegend(['CaM 45 min', 'CaM 2.75 h', 'CaM 4.75 h', 'CaM 6.75 h', 'CaM 8.75 h', 'CaM 13.5 h'], 461, 280, 4)
  ],
  graphic: [
    letter('D', 28, 33),
    titleText('{b|K-Ras4B GTP}', 381, 32),
    {
      type: 'text', x: 612, y: 243,
      style: {
        text: '{i|t} after', font: '20px ' + FONT, fill: '#000', textAlign: 'right', textVerticalAlign: 'middle',
        rich: { i: { fontStyle: 'italic', fontSize: 20, fontFamily: FONT, fill: '#000' } }
      }
    },
    {
      type: 'text', x: 612, y: 267,
      style: { text: 'CaM add.', font: '20px ' + FONT, fill: '#000', textAlign: 'right', textVerticalAlign: 'middle' }
    }
  ].concat(wnTitle(337, 481)),
  series: [
    zeroLine(),
    specSeries('K-Ras 30 min', dRas30min, '#000000', false),
    specSeries('K-Ras  5 h', dRas5h, '#ff1a1a', false),
    specSeries('K-Ras  7 h', dRas7h, '#1f44ff', false),
    specSeries('K-Ras  9 h', dRas9h, '#18e6f2', false),
    specSeries('CaM 45 min', dCam45min, '#e0208a', false),
    specSeries('CaM 2.75 h', dCam275h, '#22e022', false),
    specSeries('CaM 4.75 h', dCam475h, '#7a1010', false),
    specSeries('CaM 6.75 h', dCam675h, '#208a20', true),
    specSeries('CaM 8.75 h', dCam875h, '#8a40d0', true),
    specSeries('CaM 13.5 h', dCam135h, '#e8851e', true)
  ]
});
</script>
</body>
</html>
